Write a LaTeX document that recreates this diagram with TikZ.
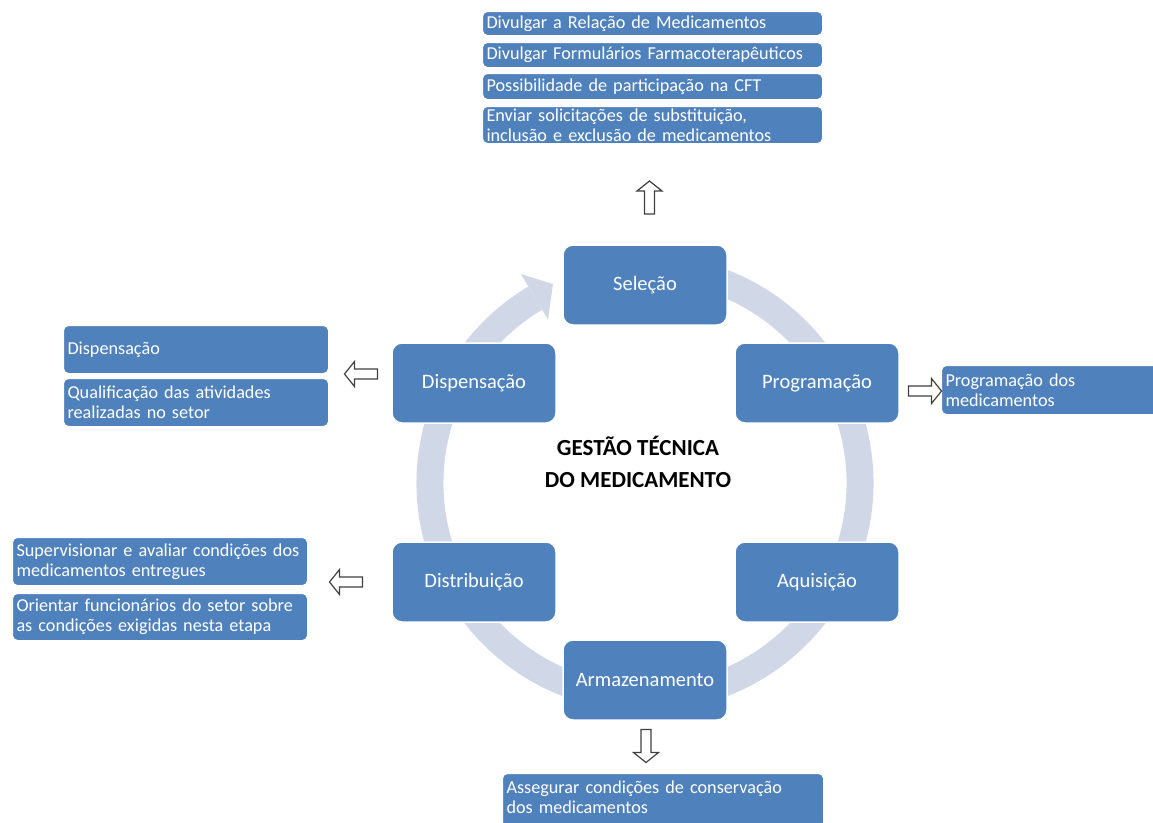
\documentclass[tikz,border=0pt]{standalone}
\usepackage{fontspec}
\setmainfont{Carlito}
\usetikzlibrary{calc}
\definecolor{boxblue}{HTML}{4F81BD}
\definecolor{bandcol}{HTML}{D0D8E8}
\definecolor{arrline}{HTML}{404040}
\tikzset{
  mainbox/.style={rectangle, rounded corners=10pt, fill=boxblue, draw=white, line width=1.5pt,
    minimum width=164, minimum height=80, text=white, inner sep=0pt,
    font=\fontsize{20.5}{24}\selectfont},
  sidebox/.style={rectangle, rounded corners=5pt, fill=boxblue, draw=white, line width=1pt,
    text=white, align=left, anchor=north west, inner xsep=4pt, inner ysep=0pt,
    font=\fontsize{18.2}{20}\selectfont},
  hollow/.style={fill=white, draw=arrline, line width=1.2pt, line join=miter},
  band/.style={draw=bandcol, line width=27pt, line cap=butt}
}
\newcommand\hollowarrow[3]{%
  \draw[hollow, shift={(#1,#2)}, rotate=#3]
    (-16.5,-5) -- (6.5,-5) -- (6.5,-12.5) -- (16.5,0) -- (6.5,12.5) -- (6.5,5) -- (-16.5,5) -- cycle;}
\begin{document}
\begin{tikzpicture}[x=1pt,y=-1pt]
\useasboundingbox (0,0) rectangle (1153,822);
\coordinate (C) at (645,483);
% circular band with arrowhead
\draw[band] ($(C)+(-75:215)$) arc[start angle=-75, end angle=239.3, radius=215];
\coordinate (hb1) at ($(C)+(-120.7:190)$);
\coordinate (hb2) at ($(C)+(-120.7:243)$);
\coordinate (htip) at (553,284);
\fill[bandcol] (hb1) -- (hb2) -- (htip) -- cycle;
% main boxes
\node[mainbox] (sel) at (645,285) {Seleção};
\node[mainbox] (prog) at (817,383) {Programação};
\node[mainbox] (aqui) at (817,582) {Aquisição};
\node[mainbox] (arm) at (645,680) {Armazenamento};
\node[mainbox] (dist) at (474,582) {Distribuição};
\node[mainbox] (disp) at (474,383) {Dispensação};
\node[font=\bfseries\fontsize{23}{32}\selectfont, align=center] (title) at (638,462) {GESTÃO TÉCNICA\\DO MEDICAMENTO};
% top list
\node[sidebox, text width=332, minimum height=24] (t1) at (482,11) {Divulgar a Relação de Medicamentos};
\node[sidebox, text width=332, minimum height=25] (t2) at (482,42) {Divulgar Formulários Farmacoterapêuticos};
\node[sidebox, text width=332, minimum height=26] (t3) at (482,73) {Possibilidade de participação na CFT};
\node[sidebox, text width=332, minimum height=37] (t4) at (482,106) {Enviar solicitações de substituição,\\inclusão e exclusão de medicamentos};
% left upper
\node[sidebox, text width=257, minimum height=48] (l1) at (63,325) {Dispensação};
\node[sidebox, text width=257, minimum height=48] (l2) at (63,378) {Qualificação das atividades\\realizadas no setor};
% right
\node[sidebox, text width=217, minimum height=49] (r1) at (941,365) {Programação dos\\medicamentos};
% left lower
\node[sidebox, text width=287, minimum height=48] (b1) at (12,537) {Supervisionar e avaliar condições dos\\medicamentos entregues};
\node[sidebox, text width=287, minimum height=47] (b2) at (12,593) {Orientar funcionários do setor sobre\\as condições exigidas nesta etapa};
% bottom
\node[sidebox, text width=313, minimum height=54] (d1) at (502,773) {Assegurar condições de conservação\\dos medicamentos\strut};
% hollow block arrows
\hollowarrow{649.5}{197.5}{90}
\hollowarrow{925}{391}{0}
\hollowarrow{361}{374}{180}
\hollowarrow{346}{582}{180}
\hollowarrow{646}{746}{270}
\end{tikzpicture}
\end{document}
